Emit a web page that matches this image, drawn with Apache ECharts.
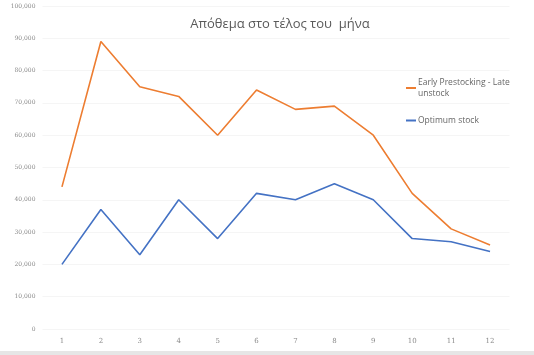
<!DOCTYPE html>
<html><head><meta charset="utf-8">
<script src="https://cdn.jsdelivr.net/npm/echarts@6/dist/echarts.min.js"></script>
<style>html,body{margin:0;padding:0;background:#fff}#c{width:534px;height:355px}</style>
</head><body><div id="c"></div>
<script>
const months = ['1','2','3','4','5','6','7','8','9','10','11','12'];
const earlyPrestocking = [44000, 89000, 75000, 72000, 60000, 74000, 68000, 69000, 60000, 42000, 31000, 26000];
const optimumStock = [20000, 37000, 23000, 40000, 28000, 42000, 40000, 45000, 40000, 28000, 27000, 24000];
const titleText = 'Απόθεμα στο τέλος του  μήνα';
const seriesNames = ['Early Prestocking - Late\nunstock', 'Optimum stock'];

const chart = echarts.init(document.getElementById('c'));
chart.setOption({
  animation: false,
  backgroundColor: '#ffffff',
  title: {
    text: titleText, left: 275, top: 13, textAlign: 'center',
    textStyle: { fontFamily: 'Open Sans', fontSize: 13, fontWeight: 'normal', color: '#595959' }
  },
  legend: {
    orient: 'vertical', left: 401, top: 72, itemGap: 16,
    itemWidth: 10, itemHeight: 2, icon: 'rect',
    textStyle: { fontFamily: 'Open Sans', fontSize: 8.5, color: '#666666', lineHeight: 11, padding: [0, 0, 0, -3] },
    data: seriesNames
  },
  grid: { left: 42.5, right: 24.5, top: 6, bottom: 26 },
  xAxis: {
    type: 'category', data: months, boundaryGap: true,
    axisLine: { show: false }, axisTick: { show: false },
    axisLabel: { fontFamily: 'DejaVu Serif', fontSize: 7, color: '#8a8a8a', margin: 9 }
  },
  yAxis: {
    type: 'value', min: 0, max: 100000, interval: 10000,
    axisLine: { show: false }, axisTick: { show: false },
    splitLine: { lineStyle: { color: '#f5f5f5', width: 1 } },
    axisLabel: {
      fontFamily: 'DejaVu Serif', fontSize: 6, color: '#8a8a8a', margin: 7,
      formatter: v => v.toLocaleString('en-US')
    }
  },
  series: [
    { name: seriesNames[0], type: 'line', data: earlyPrestocking, showSymbol: false,
      lineStyle: { color: '#ED7D31', width: 1.6 }, itemStyle: { color: '#ED7D31' } },
    { name: seriesNames[1], type: 'line', data: optimumStock, showSymbol: false,
      lineStyle: { color: '#4472C4', width: 1.6 }, itemStyle: { color: '#4472C4' } }
  ],
  graphic: [
    { type: 'rect', left: 0, top: 351, shape: { width: 534, height: 4 }, style: { fill: '#e6e6e6' }, silent: true }
  ]
});
</script></body></html>
